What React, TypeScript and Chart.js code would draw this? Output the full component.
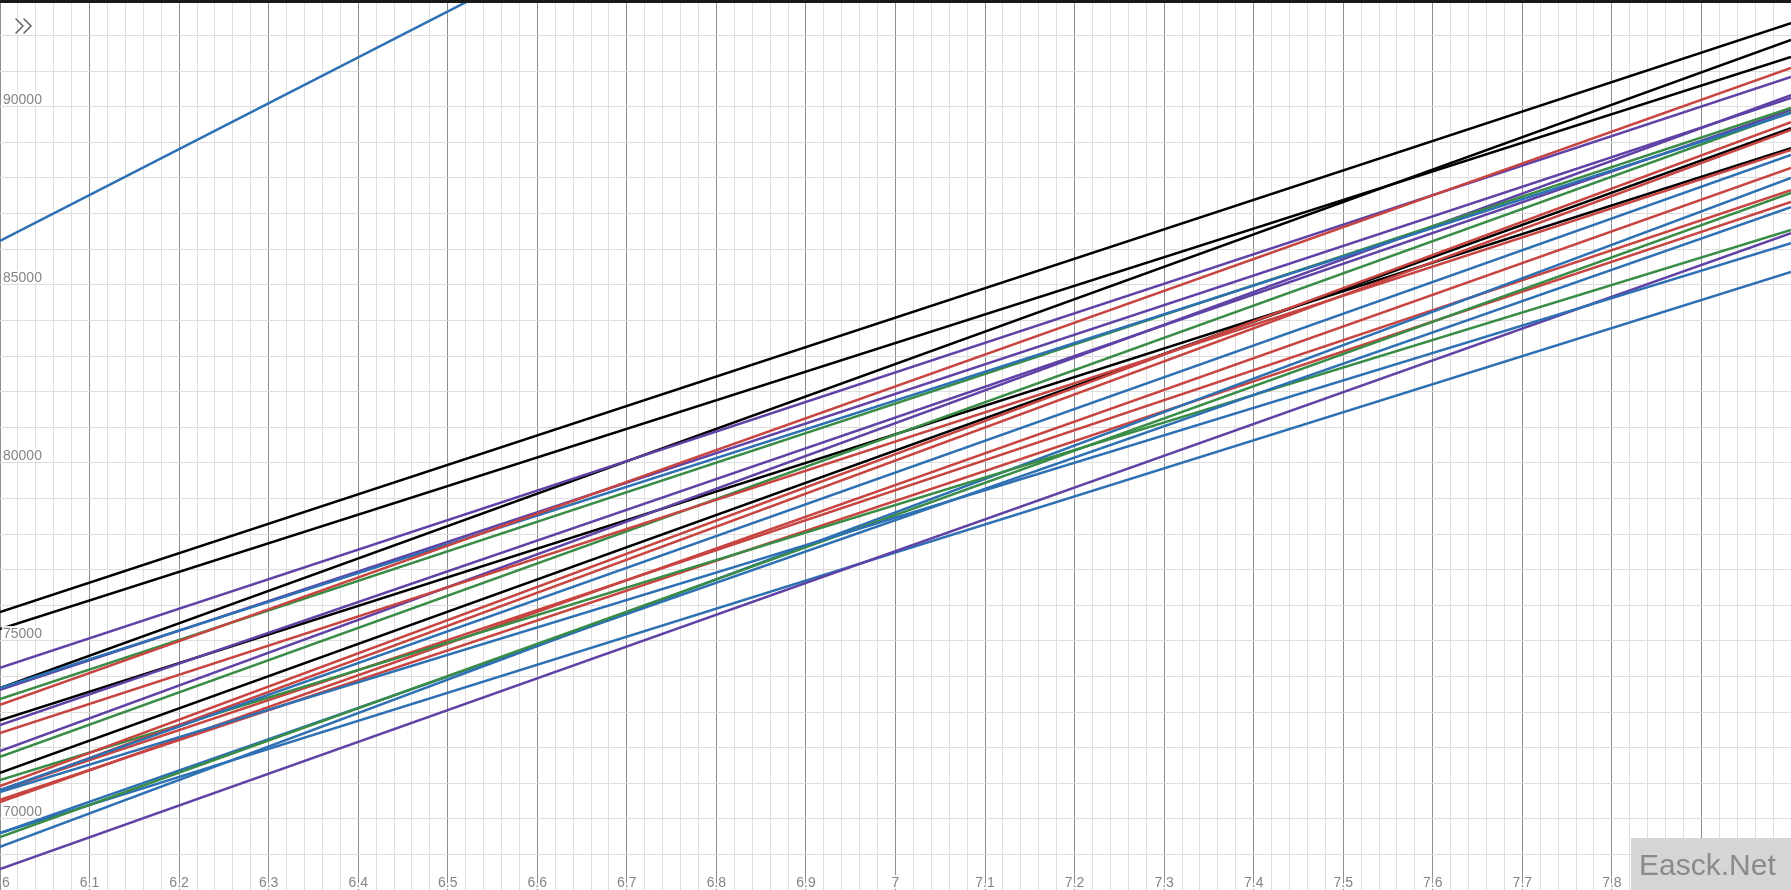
import React, { useEffect, useRef } from "react";
import { Chart, registerables } from "chart.js";

Chart.register(...registerables);

// x positions where each straight line is sampled
const xValues = [6, 8];

// y values of each line at x = 6 and x = 8
const black1 = [75620, 92160];
const black2 = [75140, 91210];
const black3 = [73480, 91690];
const black4 = [72580, 88650];
const black5 = [71100, 89210];
const purple1 = [74050, 90650];
const purple2 = [73430, 90060];
const purple3 = [72440, 89720];
const purple4 = [71710, 90140];
const purple5 = [68400, 86260];
const blue1 = [73480, 89640];
const blue2 = [70620, 88460];
const blue3 = [70560, 85980];
const blue4 = [69410, 86990];
const blue5 = [69020, 87810];
const blue6 = [69410, 85170];
const blueSteep = [86040, 111830];
const red1 = [73010, 90900];
const red2 = [72220, 88600];
const red3 = [70730, 89380];
const red4 = [70590, 89160];
const red5 = [70280, 88090];
const red6 = [70620, 87470];
const red7 = [70340, 87140];
const green1 = [73170, 89780];
const green2 = [71550, 89660];
const green3 = [69300, 87390];
const green4 = [70900, 86350];

// axis tick labels
const xTickLabels = ["6", "6.1", "6.2", "6.3", "6.4", "6.5", "6.6", "6.7", "6.8", "6.9", "7", "7.1", "7.2", "7.3", "7.4", "7.5", "7.6", "7.7", "7.8", "7.9"];
const yTickLabels = ["70000", "75000", "80000", "85000", "90000"];

const RED = "#c74440";
const BLUE = "#2d70b3";
const GREEN = "#388c46";
const PURPLE = "#6042a6";
const BLACK = "#000000";

const seriesList: [number[], string][] = [
  [red1, RED], [blue1, BLUE], [green1, GREEN], [purple1, PURPLE], [black1, BLACK],
  [red2, RED], [blue2, BLUE], [green2, GREEN], [purple2, PURPLE], [black2, BLACK],
  [red3, RED], [blue3, BLUE], [green3, GREEN], [purple3, PURPLE], [black3, BLACK],
  [red4, RED], [blue4, BLUE], [green4, GREEN], [purple4, PURPLE], [black4, BLACK],
  [red5, RED], [blue5, BLUE], [purple5, PURPLE], [black5, BLACK],
  [red6, RED], [blue6, BLUE], [red7, RED], [blueSteep, BLUE],
];

const isMajor = (v: number, step: number) => {
  const r = v / step;
  return Math.abs(r - Math.round(r)) < 1e-6;
};

const overlayPlugin = {
  id: "overlay",
  afterDatasetsDraw(chart: any) {
    const { ctx, scales, width, height } = chart;
    const xs = scales.x;
    const ys = scales.y;
    ctx.save();
    ctx.font = '14px "Liberation Sans", Arial, sans-serif';
    ctx.lineJoin = "round";
    // y labels
    ctx.textAlign = "left";
    ctx.textBaseline = "middle";
    yTickLabels.forEach((t) => {
      const py = ys.getPixelForValue(Number(t));
      ctx.strokeStyle = "rgba(255,255,255,0.9)";
      ctx.lineWidth = 4;
      ctx.strokeText(t, 3, py);
      ctx.fillStyle = "#858585";
      ctx.fillText(t, 3, py);
    });
    // x labels
    xTickLabels.forEach((t) => {
      let px = xs.getPixelForValue(Number(t));
      ctx.textAlign = "center";
      const w = ctx.measureText(t).width;
      if (px - w / 2 < 2) px = 2 + w / 2;
      const py = 883;
      ctx.strokeStyle = "rgba(255,255,255,0.9)";
      ctx.lineWidth = 4;
      ctx.strokeText(t, px, py);
      ctx.fillStyle = "#858585";
      ctx.fillText(t, px, py);
    });
    // top border
    ctx.fillStyle = "#1a1a1a";
    ctx.fillRect(0, 0, width, 3);
    // chevrons
    ctx.strokeStyle = "#666666";
    ctx.lineWidth = 1.6;
    ctx.lineCap = "round";
    [16, 24].forEach((cx) => {
      ctx.beginPath();
      ctx.moveTo(cx, 19);
      ctx.lineTo(cx + 7, 26);
      ctx.lineTo(cx, 33);
      ctx.stroke();
    });
    // watermark
    ctx.fillStyle = "#d5d5d5";
    ctx.fillRect(1631, 838, width - 1631, height - 838);
    ctx.fillStyle = "#8a8a8a";
    ctx.font = '30px "Liberation Sans", Arial, sans-serif';
    ctx.textAlign = "left";
    ctx.textBaseline = "alphabetic";
    ctx.fillText("Easck.Net", 1639, 875);
    ctx.restore();
  },
};

export default function App() {
  const ref = useRef<HTMLCanvasElement | null>(null);
  useEffect(() => {
    document.body.style.margin = "0";
    document.body.style.overflow = "hidden";
    const canvas = ref.current!;
    const chart = new Chart(canvas, {
      type: "line",
      data: {
        datasets: seriesList.map(([vals, color], i) => ({
          label: "s" + i,
          data: xValues.map((x, j) => ({ x, y: vals[j] })),
          borderColor: color,
          borderWidth: 2.5,
          pointRadius: 0,
          tension: 0,
          fill: false,
        })),
      },
      options: {
        animation: false,
        responsive: false,
        maintainAspectRatio: false,
        layout: { padding: 0 },
        plugins: { legend: { display: false }, tooltip: { enabled: false } },
        events: [],
        scales: {
          x: {
            type: "linear",
            min: 6,
            max: 8,
            border: { display: false },
            ticks: { display: false, stepSize: 0.02 },
            grid: {
              drawTicks: false,
              lineWidth: 1,
              color: (c: any) => (isMajor(c.tick.value, 0.1) ? "#8e8e8e" : "#dedede"),
            },
          },
          y: {
            type: "linear",
            min: 67810,
            max: 92810,
            border: { display: false },
            ticks: { display: false, stepSize: 1000 },
            grid: {
              drawTicks: false,
              lineWidth: 1,
              color: (c: any) => (isMajor(c.tick.value, 5000) ? "#8e8e8e" : "#dedede"),
            },
          },
        },
      },
      plugins: [overlayPlugin],
    });
    return () => chart.destroy();
  }, []);
  return (
    <canvas
      ref={ref}
      width={1791}
      height={890}
      style={{ display: "block", width: 1791, height: 890, background: "#ffffff" }}
    />
  );
}
